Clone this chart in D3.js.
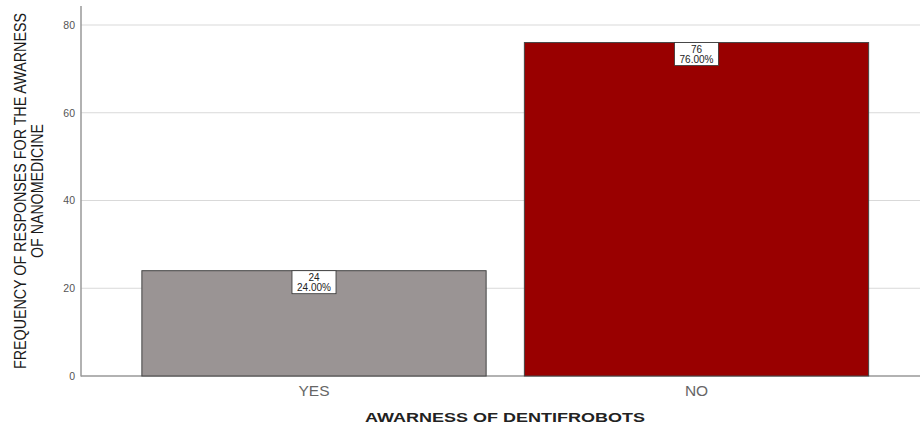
<!DOCTYPE html>
<html><head><meta charset="utf-8">
<script src="https://cdn.jsdelivr.net/npm/d3@7"></script>
<style>body{margin:0;background:#fff}svg{display:block}</style>
</head><body>
<svg id="c" width="920" height="428"></svg>
<script>
const categories = ["YES", "NO"];
const counts = [24, 76];
const percents = ["24.00%", "76.00%"];
const yTicks = [0, 20, 40, 60, 80];
const colors = ["#9a9494", "#990000"];
const yTitleLines = ["FREQUENCY OF RESPONSES FOR THE AWARNESS", "OF  NANOMEDICINE"];
const xTitle = "AWARNESS OF DENTIFROBOTS";

const svg = d3.select("#c");
const y = d3.scaleLinear().domain([0, 80]).range([376, 25]);
const x = d3.scaleBand().domain(categories).range([122.75, 887.75]).paddingInner(0.1).paddingOuter(0.05);

// gridlines
svg.append("g").selectAll("line").data(yTicks.filter(d => d > 0)).join("line")
  .attr("x1", 81).attr("x2", 920).attr("y1", d => y(d)).attr("y2", d => y(d))
  .attr("stroke", "#d9d9d9").attr("stroke-width", 1.2);

// y axis
const yAxis = svg.append("g").attr("transform", "translate(81,0)")
  .call(d3.axisLeft(y).tickValues(yTicks).tickSize(0).tickPadding(6));
yAxis.select(".domain").remove();
yAxis.selectAll("text").attr("fill", "#555").attr("font-size", 10.5).attr("font-family", "Liberation Sans, Arial, sans-serif");
svg.append("line").attr("x1", 81).attr("x2", 81).attr("y1", 6).attr("y2", 376.5).attr("stroke", "#999").attr("stroke-width", 1.5);
svg.append("line").attr("x1", 81).attr("x2", 920).attr("y1", 376).attr("y2", 376).attr("stroke", "#999").attr("stroke-width", 1.5);

// bars
svg.append("g").selectAll("rect").data(categories).join("rect")
  .attr("x", d => x(d)).attr("width", x.bandwidth())
  .attr("y", (d, i) => y(counts[i])).attr("height", (d, i) => y(0) - y(counts[i]))
  .attr("fill", (d, i) => colors[i]).attr("stroke", "#444").attr("stroke-width", 1);

// labels
const lab = svg.append("g").selectAll("g").data(categories).join("g")
  .attr("transform", (d, i) => `translate(${x(d) + x.bandwidth() / 2},${y(counts[i])})`);
lab.append("rect").attr("x", -22).attr("y", 0).attr("width", 44).attr("height", 23)
  .attr("fill", "#fff").attr("stroke", "#333").attr("stroke-width", 0.8);
lab.append("text").attr("text-anchor", "middle").attr("y", 10).attr("font-size", 10)
  .attr("font-family", "Liberation Sans, Arial, sans-serif").attr("fill", "#222").text((d, i) => counts[i]);
lab.append("text").attr("text-anchor", "middle").attr("y", 20).attr("font-size", 10)
  .attr("font-family", "Liberation Sans, Arial, sans-serif").attr("fill", "#222").text((d, i) => percents[i]);

// x axis labels
const xAxis = svg.append("g").attr("transform", "translate(0,376)")
  .call(d3.axisBottom(x).tickSize(0).tickPadding(9));
xAxis.select(".domain").remove();
xAxis.selectAll("text").attr("fill", "#666").attr("font-size", 15.5).attr("font-family", "Liberation Sans, Arial, sans-serif");

// x title
svg.append("text").attr("x", 505).attr("y", 422).attr("text-anchor", "middle")
  .attr("font-size", 13.5).attr("font-weight", "bold").attr("fill", "#222")
  .attr("font-family", "Liberation Sans, Arial, sans-serif")
  .attr("textLength", 280).attr("lengthAdjust", "spacingAndGlyphs").text(xTitle);

// y title: condensed via horizontal scale (measured, so the bounding box is true)
const yTitleWidths = [356, 134];
const yTitleBaselines = [26, 43];
yTitleLines.forEach((t, i) => {
  const g = svg.append("g").attr("transform", `translate(${yTitleBaselines[i]},191) rotate(-90)`);
  const tx = g.append("text").attr("text-anchor", "middle")
    .attr("font-size", 17).attr("fill", "#1a1a1a")
    .attr("font-family", "Liberation Sans Narrow, Arial Narrow, Liberation Sans, sans-serif")
    .text(t);
  const w = tx.node().getComputedTextLength();
  tx.attr("transform", `scale(${yTitleWidths[i] / w},1)`);
});
</script>
</body></html>
